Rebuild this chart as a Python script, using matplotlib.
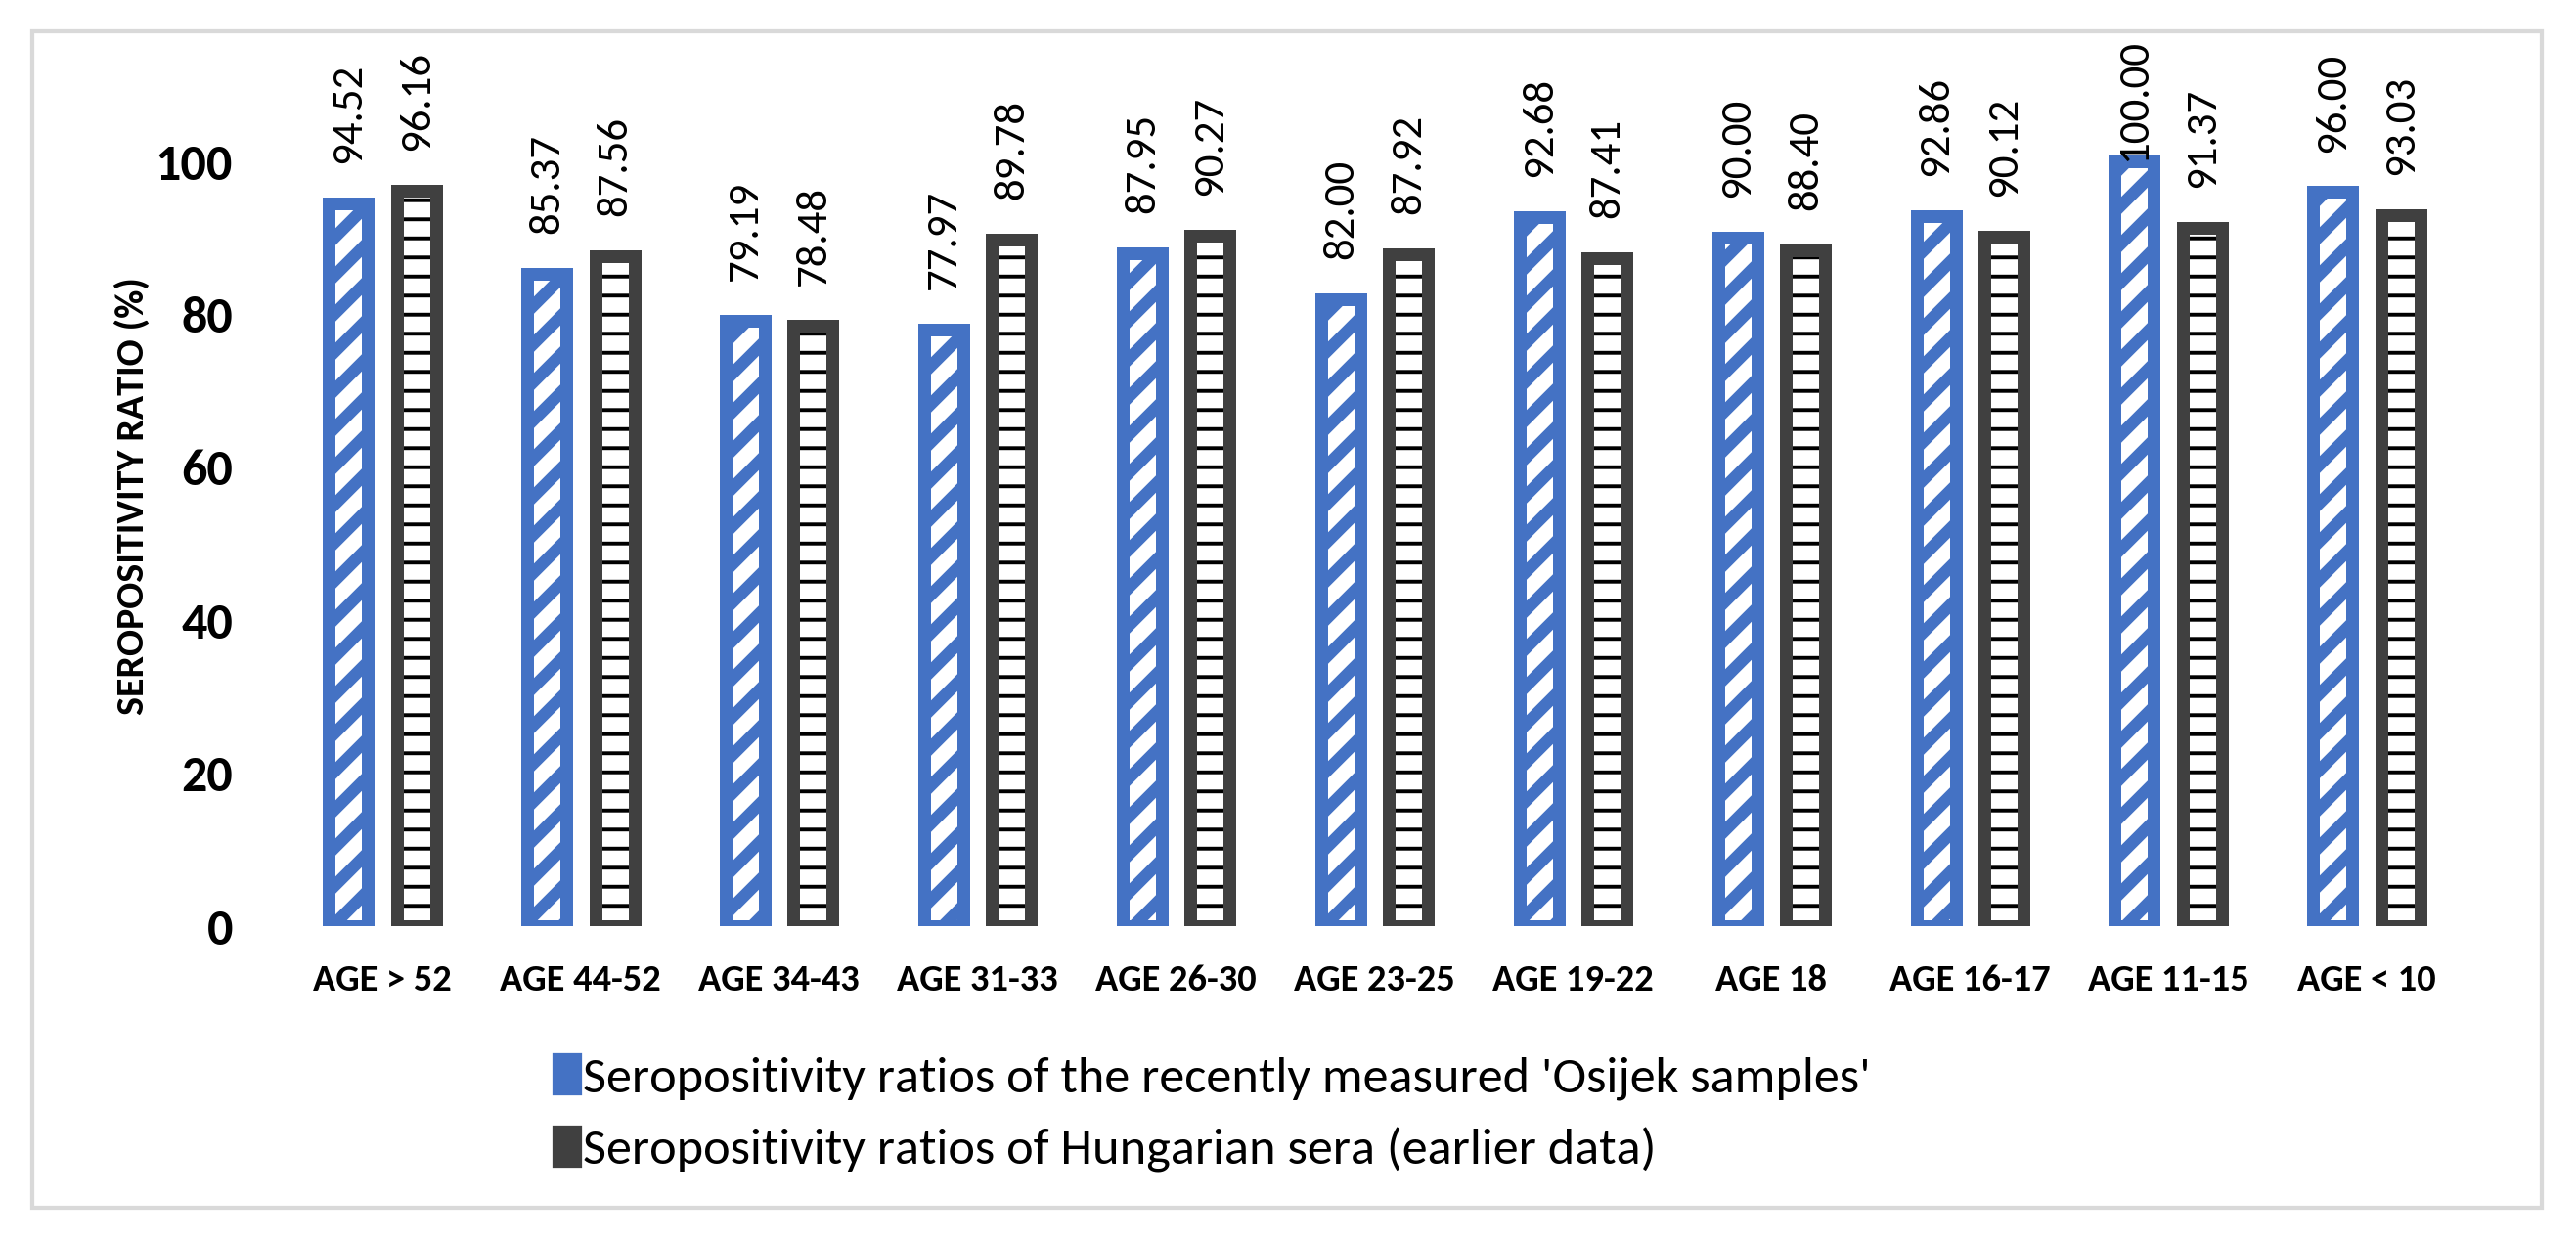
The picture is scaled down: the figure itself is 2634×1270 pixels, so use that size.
import numpy as np
import matplotlib
matplotlib.use("Agg")
import matplotlib.pyplot as plt
from matplotlib.patches import Patch, Rectangle

# values
age_groups = ['AGE > 52', 'AGE 44-52', 'AGE 34-43', 'AGE 31-33', 'AGE 26-30', 'AGE 23-25',
              'AGE 19-22', 'AGE 18', 'AGE 16-17', 'AGE 11-15', 'AGE < 10']
osijek = [94.52, 85.37, 79.19, 77.97, 87.95, 82.00, 92.68, 90.00, 92.86, 100.00, 96.00]
hungarian = [96.16, 87.56, 78.48, 89.78, 90.27, 87.92, 87.41, 88.40, 90.12, 91.37, 93.03]
y_ticks = [0, 20, 40, 60, 80, 100]

label_osijek = "Seropositivity ratios of the recently measured 'Osijek samples'"
label_hun = "Seropositivity ratios of Hungarian sera (earlier data)"

BLUE = '#4472C4'
DARK = '#404040'
DPI = 234
W, H = 2634, 1270

# Carlito has the same metrics as Calibri
plt.rcParams['font.family'] = ['Carlito', 'DejaVu Sans']

fig = plt.figure(figsize=(W / DPI, H / DPI), dpi=DPI)
ax = fig.add_axes([289.5 / W, (H - 947) / H, 2232 / W, 860 / H])

x = np.arange(len(age_groups))
offset = 0.171
width = 0.197
border = 4.0

# blue bars: white with thick blue diagonal stripes
blue_bars = ax.bar(x - offset, osijek, width, facecolor='white', edgecolor=BLUE,
                   linewidth=border, hatch='//')
for b in blue_bars:
    b.set_hatch_linewidth(3.8)

# dark bars: black horizontal lines, dark grey border on top
dark_fill = ax.bar(x + offset, hungarian, width, facecolor='white', edgecolor='black',
                   linewidth=0, hatch='--')
for b in dark_fill:
    b.set_hatch_linewidth(1.2)
ax.bar(x + offset, hungarian, width, facecolor='none', edgecolor=DARK, linewidth=border)

value_texts = []
for xs, vals in [(x - offset, osijek), (x + offset, hungarian)]:
    for xi, v in zip(xs, vals):
        t = ax.annotate(f'{v:.2f}', (xi, v), xytext=(0, 12.6), textcoords='offset points',
                        rotation=90, ha='center', va='bottom', fontsize=13.8,
                        annotation_clip=False)
        value_texts.append(t)

ax.set_xlim(-0.5, len(age_groups) - 0.5)
ax.set_ylim(0, 110)
ax.set_yticks(y_ticks)
ax.set_yticklabels([str(t) for t in y_ticks], fontsize=16, fontweight='bold')
ax.set_xticks(x)
ax.set_xticklabels(age_groups, fontsize=11.8, fontweight='bold')
ax.tick_params(axis='y', length=0, pad=15.8)
ax.tick_params(axis='x', length=0, pad=12.0)
for s in ax.spines.values():
    s.set_visible(False)

fig.text(135 / W, 1 - 507 / H, 'SEROPOSITIVITY RATIO (%)', rotation=90, ha='center',
         va='center', fontsize=12.3, fontweight='bold')

handles = [Patch(facecolor=BLUE, edgecolor=BLUE), Patch(facecolor=DARK, edgecolor=DARK)]
fig.legend(handles, [label_osijek, label_hun], loc='upper left',
           bbox_to_anchor=(566 / W, 1 - 1078 / H), frameon=False, fontsize=16.1,
           handlelength=0.515, handleheight=0.8, handletextpad=0.06,
           labelspacing=0.52, borderpad=0, borderaxespad=0)

# light grey outer frame
fig.patches.append(Rectangle((33 / W, 1 - 1235 / H), (2599 - 33) / W, (1235 - 32) / H,
                             transform=fig.transFigure, fill=False,
                             edgecolor='#D9D9D9', linewidth=1.3))

# keep value labels inside the frame (Excel pushes them down)
fig.canvas.draw()
renderer = fig.canvas.get_renderer()
top_limit = H - 40
for t in value_texts:
    bb = t.get_window_extent(renderer)
    if bb.y1 > top_limit:
        t.xyann = (0, 12.6 - (bb.y1 - top_limit) * 72 / DPI)

fig.savefig('out.png', dpi=DPI)
